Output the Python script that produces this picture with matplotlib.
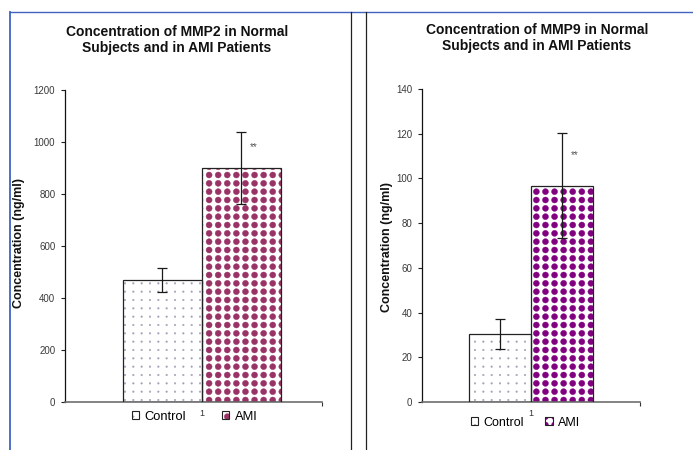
import numpy as np
import matplotlib
matplotlib.use("Agg")
import matplotlib.pyplot as plt
import matplotlib.hatch as mhatch
from matplotlib.path import Path
from matplotlib.patches import Rectangle
from matplotlib.lines import Line2D
from matplotlib.legend_handler import HandlerTuple

# ---- data -------------------------------------------------------------
groups = ["Control", "AMI"]
category_label = "1"
significance = "**"

mmp2_mean = [470, 900]
mmp2_err = [46, 138]
mmp2_ticks = [0, 200, 400, 600, 800, 1000, 1200]

mmp9_mean = [30.5, 96.8]
mmp9_err = [6.7, 23.5]
mmp9_ticks = [0, 20, 40, 60, 80, 100, 120, 140]

titles = [
    ["Concentration of MMP2 in Normal", "Subjects and in AMI Patients"],
    ["Concentration of MMP9 in Normal", "Subjects and in AMI Patients"],
]
ylabel = "Concentration (ng/ml)"


# ---- fill patterns: dots on a square lattice ---------------------------
class _DotLattice(mhatch.HatchPatternBase):
    char = "*"
    diameter = 0.6
    col_shift = 0

    def __init__(self, hatch, density):
        self.num_rows = hatch.count(self.char) * density
        self.num_cols = self.num_rows + self.col_shift if self.num_rows else 0
        circle = Path.unit_circle()
        self.shape_vertices = circle.vertices
        self.shape_codes = circle.codes
        if self.num_rows:
            self.num_vertices = ((self.num_rows + 1) * (self.num_cols + 1)
                                 * len(self.shape_vertices))
        else:
            self.num_vertices = 0

    def set_vertices_and_codes(self, vertices, codes):
        r = 0.5 * self.diameter / self.num_rows
        shape = self.shape_vertices * r
        vparts, cparts = [], []
        for y in np.linspace(0, 1, self.num_rows + 1):
            for x in np.linspace(0, 1, self.num_cols + 1):
                vparts.append(shape + [x, y])
                cparts.append(self.shape_codes)
        np.concatenate(vparts, out=vertices)
        np.concatenate(cparts, out=codes)


class _BigDots(_DotLattice):
    char = "*"
    diameter = 0.72
    col_shift = -1


class _FineDots(_DotLattice):
    char = "."
    diameter = 0.2
    col_shift = 0


mhatch._hatch_types = [t for t in mhatch._hatch_types
                       if t not in (mhatch.SmallFilledCircles, mhatch.Stars)]
mhatch._hatch_types += [_FineDots, _BigDots]

plt.rcParams["font.family"] = ["Liberation Sans", "DejaVu Sans"]
plt.rcParams["hatch.linewidth"] = 0.3

W, H = 693, 450
fig = plt.figure(figsize=(W / 100, H / 100), dpi=100)
fig.patch.set_facecolor("white")


def px_axes(x0, x1, y_top, y_bottom):
    return fig.add_axes([x0 / W, 1 - y_bottom / H, (x1 - x0) / W,
                         (y_bottom - y_top) / H])


def draw_panel(ax, means, errs, ticks, xlim, colors, hatches, star_x):
    x = np.arange(len(means))
    for xi, m, c, h in zip(x, means, colors, hatches):
        ax.bar(xi, m, width=1.0, facecolor="white", edgecolor=c,
               linewidth=0, hatch=h, zorder=2)
    ax.bar(x, means, width=1.0, facecolor="none", edgecolor="#222222",
           linewidth=0.9, zorder=3)
    ax.errorbar(x, means, yerr=errs, fmt="none", ecolor="#1a1a1a",
                elinewidth=0.9, capsize=3.3, capthick=0.9, zorder=4)
    ax.text(x[1] + star_x, means[1] + 0.58 * errs[1], significance,
            fontsize=7, color="#555555", ha="center", va="center")

    ax.set_xlim(*xlim)
    ax.set_ylim(ticks[0], ticks[-1])
    ax.set_yticks(ticks)
    ax.set_yticklabels([str(t) for t in ticks])
    ax.set_xticks([0.5])
    ax.set_xticklabels([category_label])
    ax.set_xticks([xlim[1]], minor=True)
    ax.tick_params(axis="x", which="major", length=0, pad=5,
                   labelsize=6.5, labelcolor="#333333")
    ax.tick_params(axis="x", which="minor", length=3, width=0.8,
                   color="#333333")
    ax.tick_params(axis="y", length=3, width=0.8, pad=4, labelsize=7,
                   labelcolor="#3a3a3a", color="#222222")
    for s in ("top", "right"):
        ax.spines[s].set_visible(False)
    ax.spines["left"].set_color("#111111")
    ax.spines["left"].set_linewidth(0.9)
    ax.spines["bottom"].set_color("#6e6e6e")
    ax.spines["bottom"].set_linewidth(1.2)
    ax.set_facecolor("none")


def draw_legend(ax, colors, hatches, x_px, y_px, fs, textpad, colspace):
    handles = []
    for c, h in zip(colors, hatches):
        pat = Rectangle((0, 0), 1, 1, facecolor="white", edgecolor=c,
                        linewidth=0, hatch=h)
        box = Rectangle((0, 0), 1, 1, facecolor="none",
                        edgecolor="#222222", linewidth=0.8)
        handles.append((pat, box))
    ax.legend(handles, groups,
              handler_map={tuple: HandlerTuple(ndivide=1, pad=0)},
              loc="center left", bbox_to_anchor=(x_px / W, 1 - y_px / H),
              bbox_transform=fig.transFigure, frameon=False, ncol=2,
              borderpad=0, borderaxespad=0, fontsize=fs,
              handlelength=7.5 / (fs * 100 / 72),
              handleheight=7.5 / (fs * 100 / 72),
              handletextpad=textpad, columnspacing=colspace)


# ---- left panel: MMP2 -------------------------------------------------
ax1 = px_axes(65, 322, 90, 402)
c1 = ["#a7a0b8", "#993366"]
h1 = ["..", "**"]
draw_panel(ax1, mmp2_mean, mmp2_err, mmp2_ticks, (-1.234, 2.019), c1, h1,
           0.15)
draw_legend(ax1, c1, h1, 131.5, 416.7, 9.3, 0.45, 2.75)

# ---- right panel: MMP9 ------------------------------------------------
ax2 = px_axes(422, 640, 89, 402)
c2 = ["#a7a0b8", "#800080"]
h2 = ["..", "**"]
draw_panel(ax2, mmp9_mean, mmp9_err, mmp9_ticks, (-1.258, 2.258), c2, h2,
           0.21)
draw_legend(ax2, c2, h2, 470.5, 422.7, 9.0, 0.4, 1.75)

# ---- titles and axis labels --------------------------------------------
for (cx, y1, y2), lines in zip([(177, 31.5, 48), (537, 30, 46)], titles):
    fig.text(cx / W, 1 - y1 / H, lines[0], ha="center", va="center",
             fontsize=10, fontweight="bold", color="#111111")
    fig.text(cx / W, 1 - y2 / H, lines[1], ha="center", va="center",
             fontsize=10, fontweight="bold", color="#111111")

for cx, cy in [(19, 243), (387, 247)]:
    fig.text(cx / W, 1 - cy / H, ylabel, rotation=90, ha="center",
             va="center", fontsize=9, fontweight="bold", color="#111111")

# ---- panel frames -------------------------------------------------------
blue = "#3f63bf"
fig.add_artist(Line2D([10 / W, 10 / W], [0, 1 - 11.5 / H], color=blue,
                      lw=1.3, transform=fig.transFigure))
fig.add_artist(Line2D([10 / W, 1], [1 - 11.5 / H, 1 - 11.5 / H],
                      color=blue, lw=1.0, transform=fig.transFigure))
for xv in (350.5, 366.5):
    fig.add_artist(Line2D([xv / W, xv / W], [0, 1 - 11.5 / H],
                          color="#222222", lw=0.9,
                          transform=fig.transFigure))

fig.savefig("out.png", dpi=100, facecolor="white")
